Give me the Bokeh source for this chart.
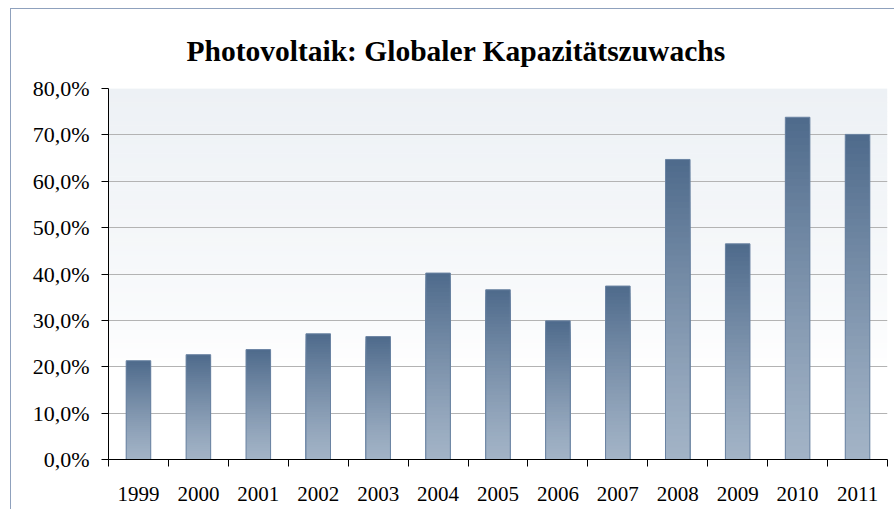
from bokeh.plotting import figure
from bokeh.models import FixedTicker, BoxAnnotation, Range1d
from bokeh.embed import file_html
from bokeh.resources import INLINE

years = ["1999", "2000", "2001", "2002", "2003", "2004", "2005", "2006",
         "2007", "2008", "2009", "2010", "2011"]
growth = [21.3, 22.6, 23.7, 27.1, 26.5, 40.2, 36.6, 29.9, 37.4, 64.7, 46.5, 73.8, 70.1]
y_ticks = [0, 10, 20, 30, 40, 50, 60, 70, 80]
y_tick_labels = ["0,0%", "10,0%", "20,0%", "30,0%", "40,0%", "50,0%", "60,0%", "70,0%", "80,0%"]

FONT = "Liberation Serif"

def lerp(c1, c2, t):
    a = [int(c1[i:i + 2], 16) for i in (1, 3, 5)]
    b = [int(c2[i:i + 2], 16) for i in (1, 3, 5)]
    return "#%02x%02x%02x" % tuple(round(a[k] + (b[k] - a[k]) * t) for k in range(3))

p = figure(width=884, height=501, output_backend="svg", toolbar_location=None,
           x_range=Range1d(0, len(years)), y_range=Range1d(0, 80),
           min_border_left=97, min_border_right=8, min_border_top=79, min_border_bottom=51,
           background_fill_color="white", border_fill_color="white",
           styles={"border-top": "1px solid #8fa1bd", "border-left": "1px solid #8fa1bd",
                   "margin-left": "10px", "margin-top": "8px"})
p.outline_line_color = None

# plot-area background gradient
N_BG = 60
bg_top, bg_bottom = 80.0, 20.0
for k in range(N_BG):
    b = bg_bottom + (bg_top - bg_bottom) * k / N_BG
    t = bg_bottom + (bg_top - bg_bottom) * (k + 1) / N_BG
    frac = (k + 0.5) / N_BG
    p.add_layout(BoxAnnotation(bottom=b - 0.05, top=t + 0.05,
                               fill_color=lerp("#ffffff", "#edf1f5", frac ** 0.7),
                               fill_alpha=1, line_color=None, level="image"))

# gradient bars: nested slices drawn from the full bar downwards (no seams)
xs = [i + 0.5 for i in range(len(years))]
N = 50
dark, light = "#4e6a8b", "#a2b3c6"
for k in range(N, 0, -1):
    f = k / N
    col = lerp(light, dark, (f - 0.5 / N) ** 1.2)
    p.vbar(x=xs, width=0.41, bottom=0, top=[v * f for v in growth],
           fill_color=col, line_color=None)
p.vbar(x=xs, width=0.41, top=growth, bottom=0, fill_color=None,
       line_color="#6a83a2", line_width=1)

# grid
p.xgrid.visible = False
p.ygrid.ticker = FixedTicker(ticks=y_ticks[1:-1])
p.ygrid.grid_line_color = "#b3b3b3"
p.ygrid.grid_line_width = 1

# y axis
p.yaxis.ticker = FixedTicker(ticks=y_ticks)
p.yaxis.major_label_overrides = {t: l for t, l in zip(y_ticks, y_tick_labels)}
p.yaxis.axis_line_color = "black"
p.yaxis.major_tick_line_color = "black"
p.yaxis.major_tick_out = 7
p.yaxis.major_tick_in = 0
p.yaxis.minor_tick_line_color = None
p.yaxis.major_label_text_font = FONT
p.yaxis.major_label_text_font_size = "22px"
p.yaxis.major_label_text_color = "black"
p.yaxis.major_label_standoff = 12

# x axis
p.xaxis.ticker = FixedTicker(ticks=xs, minor_ticks=list(range(len(years) + 1)))
p.xaxis.major_label_overrides = {x: y for x, y in zip(xs, years)}
p.xaxis.axis_line_color = "black"
p.xaxis.major_tick_line_color = None
p.xaxis.major_tick_out = 0
p.xaxis.major_tick_in = 0
p.xaxis.minor_tick_line_color = "black"
p.xaxis.minor_tick_out = 7
p.xaxis.minor_tick_in = 0
p.xaxis.major_label_text_font = FONT
p.xaxis.major_label_text_font_size = "21px"
p.xaxis.major_label_text_color = "black"
p.xaxis.major_label_standoff = 20

# title
p.title.text = "Photovoltaik: Globaler Kapazitätszuwachs"
p.title.text_font = FONT
p.title.text_font_style = "bold"
p.title.text_font_size = "29.5px"
p.title.text_color = "black"
p.title.align = "left"
p.title.offset = 78
p.title.standoff = 44

open("out.html", "w").write(file_html(p, INLINE))
